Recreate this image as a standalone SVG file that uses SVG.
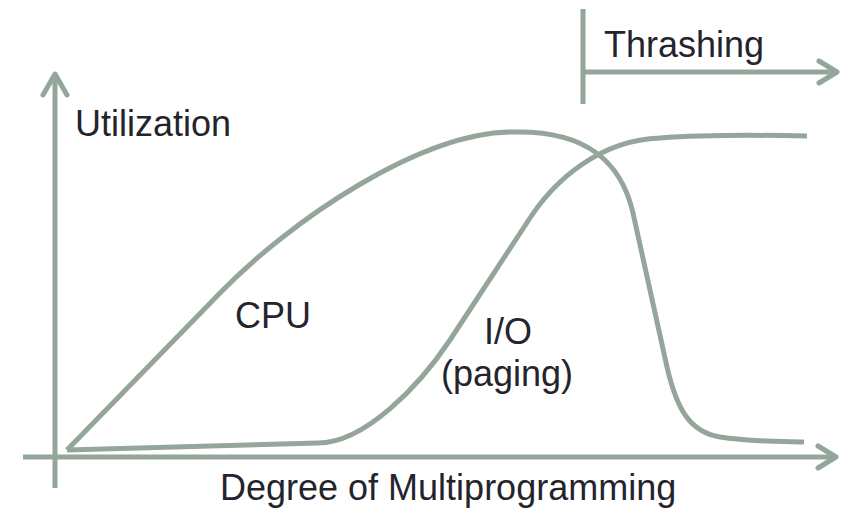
<svg xmlns="http://www.w3.org/2000/svg" width="846" height="509" viewBox="0 0 846 509">
  <style>
    .line { fill: none; stroke: #94a699; stroke-width: 5; }
    .head { fill: none; stroke: #94a699; stroke-width: 5; stroke-linecap: round; stroke-linejoin: round; }
    .label { font-family: "Liberation Sans", Arial, sans-serif; font-size: 36px; fill: #24242c; }
  </style>
  <rect width="846" height="509" fill="#ffffff"/>

  <!-- Axes -->
  <g id="axes">
    <line class="line" x1="55" y1="76" x2="55" y2="488"/>
    <polyline class="head" points="43,95 55,74 67,95"/>
    <line class="line" x1="23" y1="457" x2="834" y2="457"/>
    <polyline class="head" points="818,446 836,457 818,468"/>
  </g>

  <!-- Thrashing region marker -->
  <g id="thrashing-marker">
    <line class="line" x1="583" y1="9" x2="583" y2="104"/>
    <line class="line" x1="583" y1="72" x2="835" y2="72"/>
    <polyline class="head" points="819,61 837,72 819,83"/>
  </g>

  <!-- Utilization curves -->
  <g id="curves">
    <path id="cpu-curve" class="line" d="M67,450 L220,293 C290,221 420,132 513,132 C590,130 622,165 633,213 L667,367 C677,410 690,432 720,437 S780,441 804,442"/>
    <path id="io-curve" class="line" d="M67,450 L318,443 C365,443 420,385 450,340 L530,218 C555,180 600,140 660,138 C700,135 760,135 807,136"/>
  </g>

  <!-- Labels -->
  <g id="labels">
    <text class="label" x="75" y="136">Utilization</text>
    <text class="label" x="604" y="57">Thrashing</text>
    <text class="label" x="235" y="328">CPU</text>
    <text class="label" x="508" y="344" text-anchor="middle">I/O</text>
    <text class="label" x="507" y="386" text-anchor="middle">(paging)</text>
    <text class="label" x="220" y="500">Degree of Multiprogramming</text>
  </g>
</svg>
